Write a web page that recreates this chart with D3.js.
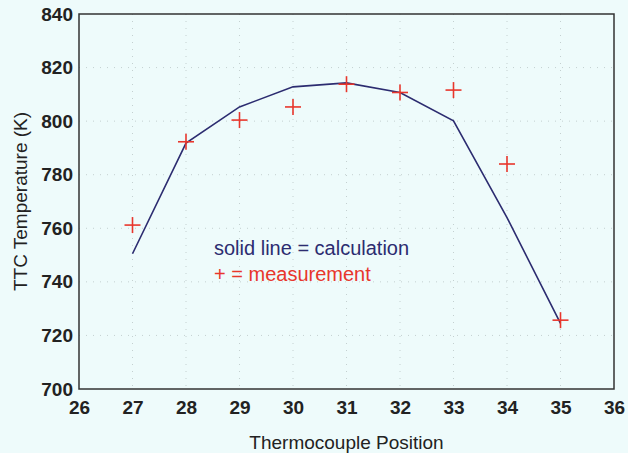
<!DOCTYPE html>
<html>
<head>
<meta charset="utf-8">
<script src="https://cdn.jsdelivr.net/npm/d3@7"></script>
<style>
  body { margin: 0; background: #eefbfb; }
  svg { display: block; }
</style>
</head>
<body>
<div id="chart"></div>
<script>
// data
var positions = [27, 28, 29, 30, 31, 32, 33, 34, 35];
var calculated = [750.5, 791.8, 805.3, 812.8, 814.3, 810.7, 800.1, 764, 724.5];
var measured = [761.2, 792.3, 800.4, 805.3, 813.8, 810.7, 811.6, 784, 725.7];
var xTicks = [26, 27, 28, 29, 30, 31, 32, 33, 34, 35, 36];
var yTicks = [700, 720, 740, 760, 780, 800, 820, 840];

var w = 628, h = 453;
var mLeft = 79, mRight = 614, mTop = 14, mBottom = 389;
var font = "'Liberation Sans', Arial, sans-serif";

var svg = d3.select('#chart')
    .append('svg')
    .attr('width', w)
    .attr('height', h);

svg.append('rect')
    .attr('width', w)
    .attr('height', h)
    .attr('fill', '#eefbfb');

var x = d3.scaleLinear().domain([26, 36]).range([mLeft, mRight]);
var y = d3.scaleLinear().domain([700, 840]).range([mBottom, mTop]);

// dotted grid
svg.append('g').selectAll('line')
    .data(xTicks.slice(1, -1))
    .enter().append('line')
    .attr('x1', function (d) { return x(d); })
    .attr('x2', function (d) { return x(d); })
    .attr('y1', mTop)
    .attr('y2', mBottom)
    .attr('stroke', '#c4d0d0')
    .attr('stroke-width', 1)
    .attr('stroke-dasharray', '1,6');

svg.append('g').selectAll('line')
    .data(yTicks.slice(1, -1))
    .enter().append('line')
    .attr('x1', mLeft)
    .attr('x2', mRight)
    .attr('y1', function (d) { return y(d); })
    .attr('y2', function (d) { return y(d); })
    .attr('stroke', '#c4d0d0')
    .attr('stroke-width', 1)
    .attr('stroke-dasharray', '1,6');

// axes (labels only, box drawn below)
var xAxis = svg.append('g')
    .attr('transform', 'translate(0,' + mBottom + ')')
    .call(d3.axisBottom(x).tickValues(xTicks).tickSize(0).tickPadding(12));
var yAxis = svg.append('g')
    .attr('transform', 'translate(' + mLeft + ',0)')
    .call(d3.axisLeft(y).tickValues(yTicks).tickSize(0).tickPadding(6));

[xAxis, yAxis].forEach(function (a) {
    a.select('.domain').remove();
    a.selectAll('text')
        .style('font-family', font)
        .style('font-size', '19px')
        .style('font-weight', 'bold')
        .attr('fill', '#222');
});

// plot box
svg.append('rect')
    .attr('x', mLeft)
    .attr('y', mTop)
    .attr('width', mRight - mLeft)
    .attr('height', mBottom - mTop)
    .attr('fill', 'none')
    .attr('stroke', '#333')
    .attr('stroke-width', 1.5);

// calculation line
var line = d3.line()
    .x(function (d, i) { return x(positions[i]); })
    .y(function (d) { return y(d); });

svg.append('path')
    .datum(calculated)
    .attr('d', line)
    .attr('fill', 'none')
    .attr('stroke', '#2c2c70')
    .attr('stroke-width', 1.6);

// measurement crosses
var s = 8;
var marks = svg.append('g').selectAll('g')
    .data(measured)
    .enter().append('g')
    .attr('transform', function (d, i) {
        return 'translate(' + x(positions[i]) + ',' + y(d) + ')'; });
marks.append('line')
    .attr('x1', -s).attr('x2', s).attr('y1', 0).attr('y2', 0)
    .attr('stroke', '#e8362c').attr('stroke-width', 1.6);
marks.append('line')
    .attr('x1', 0).attr('x2', 0).attr('y1', -s).attr('y2', s)
    .attr('stroke', '#e8362c').attr('stroke-width', 1.6);

// in-plot legend text
svg.append('text')
    .attr('x', 214).attr('y', 255)
    .text('solid line = calculation')
    .style('font-family', font)
    .style('font-size', '20px')
    .attr('fill', '#2c2c70');
svg.append('text')
    .attr('x', 214).attr('y', 281)
    .text('+ = measurement')
    .style('font-family', font)
    .style('font-size', '20px')
    .attr('fill', '#e8362c');

// axis titles
svg.append('text')
    .attr('x', (mLeft + mRight) / 2)
    .attr('y', 449)
    .attr('text-anchor', 'middle')
    .text('Thermocouple Position')
    .style('font-family', font)
    .style('font-size', '19px')
    .attr('fill', '#222');

svg.append('text')
    .attr('transform', 'translate(27,' + ((mTop + mBottom) / 2) + ') rotate(-90)')
    .attr('text-anchor', 'middle')
    .text('TTC Temperature (K)')
    .style('font-family', font)
    .style('font-size', '19px')
    .attr('fill', '#222');
</script>
</body>
</html>
